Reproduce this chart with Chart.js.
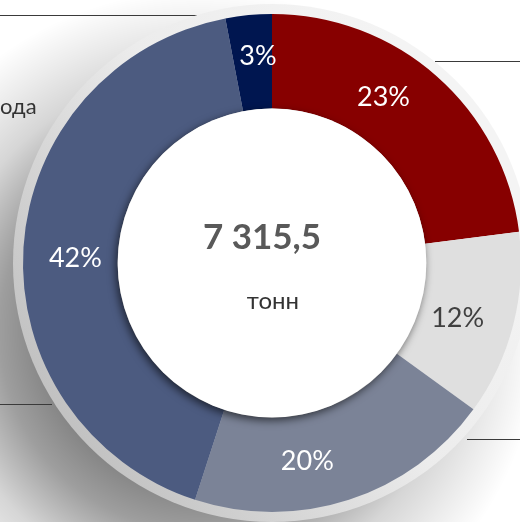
<!DOCTYPE html>
<html>
<head>
<meta charset="utf-8">
<script src="https://cdn.jsdelivr.net/npm/chart.js@4"></script>
<style>
  html, body { margin: 0; padding: 0; background: #fff; overflow: hidden; width: 520px; height: 522px; }
  #wrap { position: absolute; left: 0; top: 0; }
</style>
</head>
<body>
<div id="wrap"><canvas id="ring" width="544" height="526"></canvas></div>
<script>
// shares of the total, clockwise from the top
const categories = ['Сегмент 1', 'Сегмент 2', 'Сегмент 3', 'Сегмент 4', 'Сегмент 5'];
const shares = [23, 12, 20, 42, 3];
const colors = ['#870000', '#dfdfdf', '#7b8397', '#4c5b80', '#001650'];
const labelColors = ['#fff', '#404040', '#fff', '#fff', '#fff'];
const totalText = '7 315,5';
const unitText = 'тонн';
const sideText = 'ода';

// where along each arc the label sits (0 = start, 1 = end) and how far off the ring middle
const labelAlong = [0.41, 0.55, 0.61, 0.486, 0.64];
const labelOut = [-2, -8, 0, -5, 5];

const decor = {
  id: 'decor',
  beforeDatasetsDraw(chart) {
    const ctx = chart.ctx;
    const arc = chart.getDatasetMeta(0).data[0];
    const { x, y, outerRadius } = arc.getProps(['x', 'y', 'outerRadius'], true);

    // soft shadow falling to the lower left
    ctx.save();
    const sx = x - 72, sy = y + 67;
    const sh = ctx.createRadialGradient(sx, sy, 0, sx, sy, 340);
    sh.addColorStop(0, 'rgba(0,0,0,0.5)');
    sh.addColorStop(0.44, 'rgba(0,0,0,0.5)');
    sh.addColorStop(0.59, 'rgba(0,0,0,0.38)');
    sh.addColorStop(0.76, 'rgba(0,0,0,0.16)');
    sh.addColorStop(0.88, 'rgba(0,0,0,0.08)');
    sh.addColorStop(1, 'rgba(0,0,0,0)');
    ctx.fillStyle = sh;
    ctx.fillRect(0, 0, chart.width, chart.height);
    ctx.restore();

    // thin rules
    ctx.save();
    ctx.strokeStyle = '#3a3a3a';
    ctx.lineWidth = 1;
    [[0, 197, 15.5], [435, 544, 61.5], [0, 52, 404.5], [467, 544, 439.5]].forEach(l => {
      ctx.beginPath(); ctx.moveTo(l[0], l[2]); ctx.lineTo(l[1], l[2]); ctx.stroke();
    });
    ctx.fillStyle = '#333';
    ctx.font = '22px Lato, sans-serif';
    ctx.textBaseline = 'middle';
    ctx.fillText(sideText, 0, 107);
    ctx.restore();

    // outer grey rim
    ctx.save();
    const g = ctx.createLinearGradient(x + 200, y - 120, x - 200, y + 160);
    g.addColorStop(0, '#f4f4f4');
    g.addColorStop(0.45, '#ececec');
    g.addColorStop(1, '#c2c2c2');
    ctx.fillStyle = g;
    ctx.beginPath();
    ctx.arc(x, y, outerRadius + 10, 0, Math.PI * 2);
    ctx.fill();
    ctx.restore();
  },
  afterDatasetsDraw(chart) {
    const ctx = chart.ctx;
    const meta = chart.getDatasetMeta(0);
    const first = meta.data[0].getProps(['x', 'y', 'innerRadius', 'outerRadius'], true);

    // raised white centre
    ctx.save();
    ctx.shadowColor = 'rgba(0,0,0,0.6)';
    ctx.shadowBlur = 9;
    ctx.shadowOffsetX = -2;
    ctx.shadowOffsetY = 3;
    ctx.fillStyle = '#fff';
    ctx.beginPath();
    ctx.arc(first.x, first.y, first.innerRadius, 0, Math.PI * 2);
    ctx.fill();
    ctx.restore();

    ctx.save();
    ctx.textAlign = 'center';
    ctx.textBaseline = 'middle';
    ctx.fillStyle = '#595959';
    ctx.font = 'bold 35px Lato, sans-serif';
    ctx.fillText(totalText, first.x - 10, first.y - 25);
    ctx.fillStyle = '#333';
    ctx.font = '24px Lato, sans-serif';
    ctx.fillText(unitText, first.x + 1, first.y + 38);

    // percentage labels
    const total = shares.reduce((a, b) => a + b, 0);
    ctx.font = '27px Lato, sans-serif';
    meta.data.forEach((el, i) => {
      const p = el.getProps(['x', 'y', 'startAngle', 'endAngle', 'innerRadius', 'outerRadius'], true);
      const a = p.startAngle + (p.endAngle - p.startAngle) * labelAlong[i];
      const r = (p.innerRadius + p.outerRadius) / 2 + labelOut[i];
      ctx.fillStyle = labelColors[i];
      ctx.fillText(Math.round(shares[i] / total * 100) + '%', p.x + Math.cos(a) * r, p.y + Math.sin(a) * r);
    });
    ctx.restore();
  }
};

new Chart(document.getElementById('ring'), {
  type: 'doughnut',
  data: {
    labels: categories,
    datasets: [{
      data: shares,
      backgroundColor: colors,
      borderWidth: 0
    }]
  },
  options: {
    responsive: false,
    animation: false,
    cutout: '62%',
    layout: { padding: 14 },
    plugins: { legend: { display: false }, tooltip: { enabled: false } }
  },
  plugins: [decor]
});
</script>
</body>
</html>
